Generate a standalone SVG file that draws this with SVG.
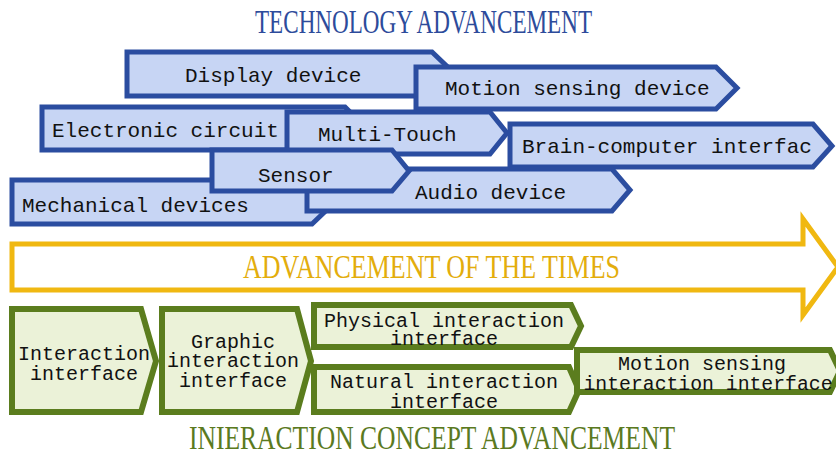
<svg xmlns="http://www.w3.org/2000/svg" width="836" height="456" viewBox="0 0 836 456">
<style>
.b{fill:#c7d5f4;stroke:#2b4da0;stroke-width:5;stroke-linejoin:miter}
.g{fill:#ebf2d8;stroke:#5b7d1e;stroke-width:6;stroke-linejoin:miter}
.y{fill:#ffffff;stroke:#f0b811;stroke-width:5}
.t{font-family:"Liberation Mono",monospace;font-size:21px;fill:#111}
.tg{font-family:"Liberation Mono",monospace;font-size:20px;fill:#111;text-anchor:middle}
.h{font-family:"Liberation Serif",serif;font-size:33px}
</style>
<rect width="836" height="456" fill="#ffffff"/>
<text class="h" x="255" y="33" fill="#2d4b9b" textLength="337" lengthAdjust="spacingAndGlyphs">TECHNOLOGY ADVANCEMENT</text>
<g id="display"><path class="b" d="M127,52 H432 L455,74 L432,96 H127 Z"/><text class="t" x="185" y="82">Display device</text></g>
<g id="motion-device"><path class="b" d="M416,67 H716 L737,88 L716,109 H416 Z"/><text class="t" x="445" y="95">Motion sensing device</text></g>
<g id="electronic"><path class="b" d="M42,107 H345 L367,129 L345,150 H42 Z"/><text class="t" x="52" y="137">Electronic circuit</text></g>
<g id="multitouch"><path class="b" d="M287,112 H490 L507,133 L490,154 H287 Z"/><text class="t" x="318" y="141">Multi-Touch</text></g>
<g id="brain"><path class="b" d="M510,124 H813 L832,146 L813,167 H510 Z"/><text class="t" x="522" y="153">Brain-computer interfac</text></g>
<g id="mechanical"><path class="b" d="M12,180 H312 L335,202 L312,224 H12 Z"/><text class="t" x="22" y="212">Mechanical devices</text></g>
<g id="audio"><path class="b" d="M307,169 H612 L630,190 L612,211 H307 Z"/><text class="t" x="415" y="199">Audio device</text></g>
<g id="sensor"><path class="b" d="M212,150 H392 L409,171 L392,191 H212 Z"/><text class="t" x="258" y="182">Sensor</text></g>
<g id="times"><path class="y" d="M12,244 H803 V219 L838,267 L803,315 V290 H12 Z"/><text class="h" x="243" y="278" fill="#e3ad0c" textLength="377" lengthAdjust="spacingAndGlyphs">ADVANCEMENT OF THE TIMES</text></g>
<g id="interaction"><path class="g" d="M12,309 H141 L156,361 L141,412 H12 Z"/><text class="tg" x="84" y="360">Interaction</text><text class="tg" x="84" y="380">interface</text></g>
<g id="graphic"><path class="g" d="M162,309 H297 L311,361 L297,412 H162 Z"/><text class="tg" x="233" y="348">Graphic</text><text class="tg" x="233" y="367">interaction</text><text class="tg" x="233" y="387">interface</text></g>
<g id="physical"><path class="g" d="M314,305 H571 L581,326 L571,347 H314 Z"/><text class="tg" x="444" y="327">Physical interaction</text><text class="tg" x="444" y="345">interface</text></g>
<g id="natural"><path class="g" d="M314,367 H569 L579,390 L569,412 H314 Z"/><text class="tg" x="444" y="388">Natural interaction</text><text class="tg" x="444" y="408">interface</text></g>
<g id="motion-interface"><path class="g" d="M577,350 H830 L840,371 L830,392 H577 Z"/><text class="tg" x="702" y="370">Motion sensing</text><text class="tg" x="708" y="390" textLength="249" lengthAdjust="spacingAndGlyphs">interaction interface</text></g>
<text class="h" x="189" y="449" fill="#5b7a1f" font-size="34" textLength="486" lengthAdjust="spacingAndGlyphs">INIERACTION CONCEPT ADVANCEMENT</text>
<g id="connectors"/>
</svg>
